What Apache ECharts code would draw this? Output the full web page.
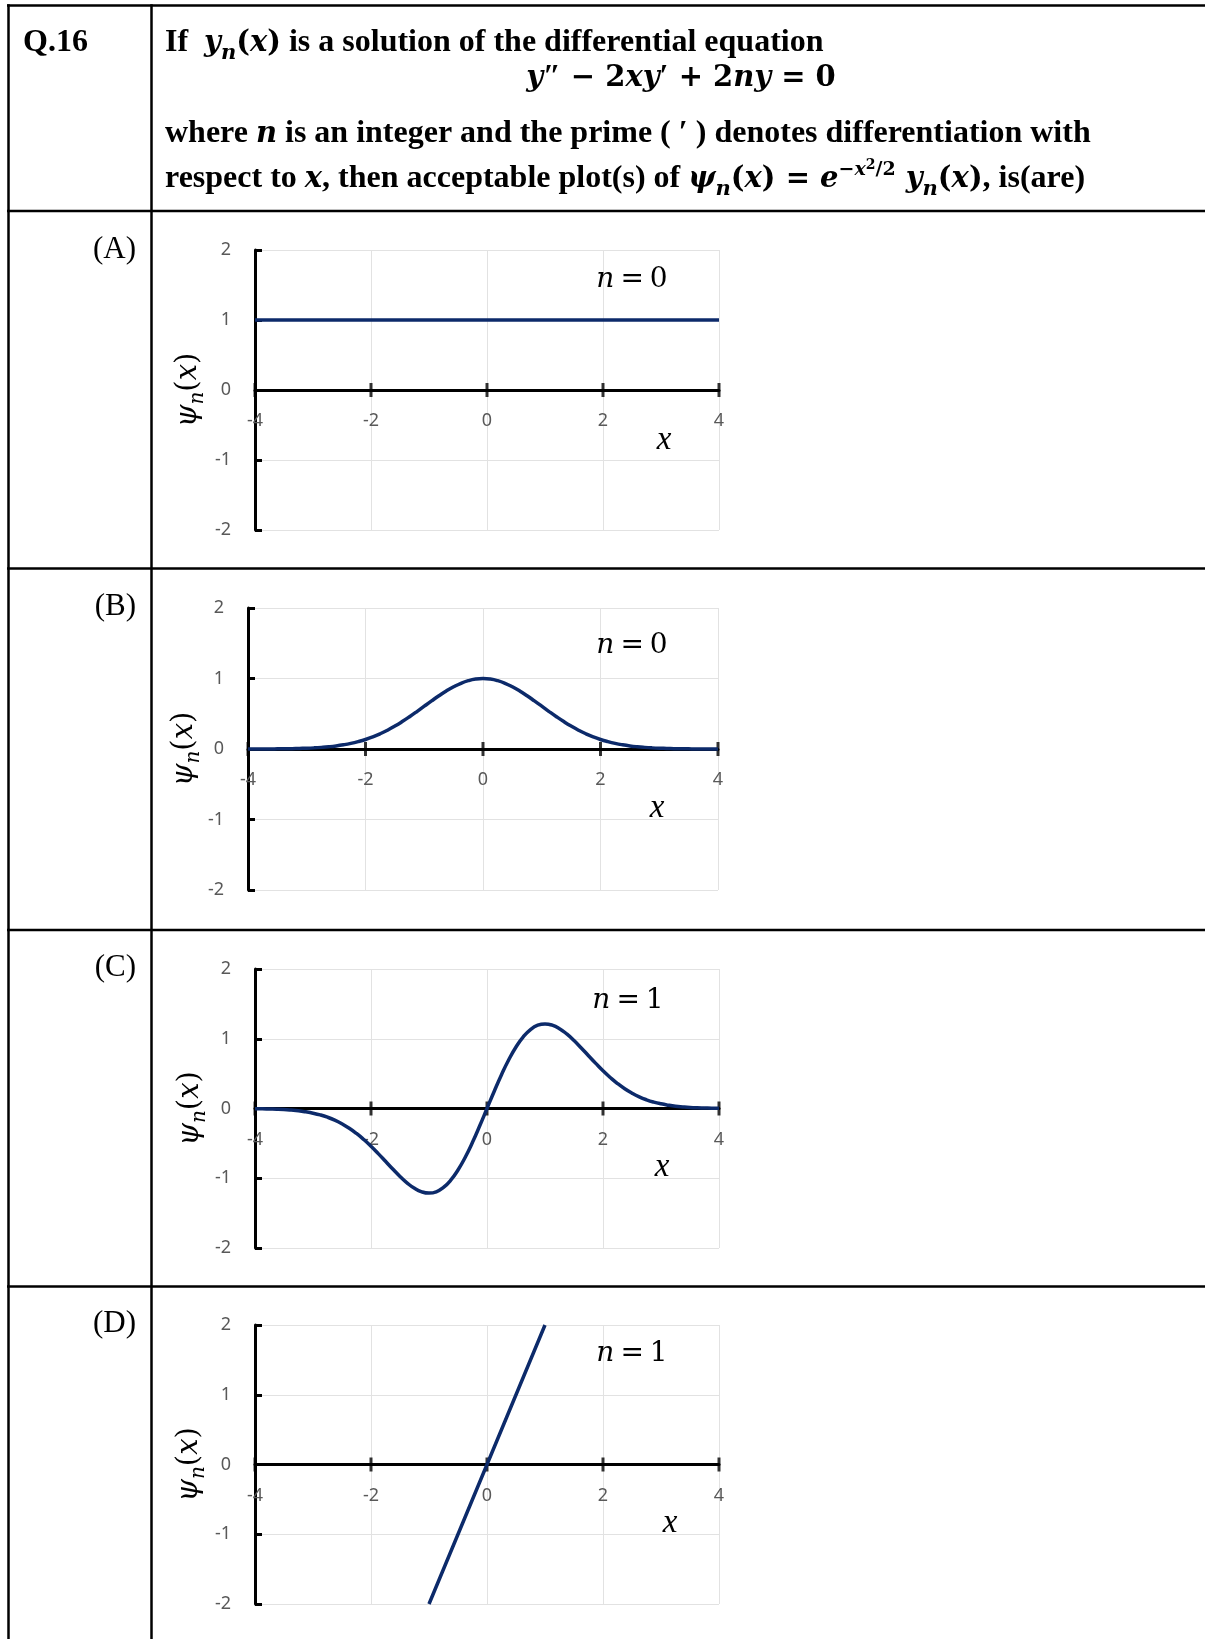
<!DOCTYPE html>
<html>
<head>
<meta charset="utf-8">
<script src="https://cdn.jsdelivr.net/npm/echarts@6/dist/echarts.min.js"></script>
<style>
html,body{margin:0;padding:0;background:#fff;}
#c{width:1205px;height:1639px;}
</style>
</head>
<body>
<div id="c"></div>
<script>
// ---------------- data ----------------
const xTicks = [-4, -2, 0, 2, 4];
const yTicks = [-2, -1, 0, 1, 2];
const panelLabels = ['(A)', '(B)', '(C)', '(D)'];
const nValues = ['0', '0', '1', '1'];

const xA = [-4, 4];
const psiA = [1, 1];

const xBC = [-4, -3.875, -3.75, -3.625, -3.5, -3.375, -3.25, -3.125, -3, -2.875, -2.75, -2.625, -2.5, -2.375, -2.25, -2.125,
             -2, -1.875, -1.75, -1.625, -1.5, -1.375, -1.25, -1.125, -1, -0.875, -0.75, -0.625, -0.5, -0.375, -0.25, -0.125,
             0, 0.125, 0.25, 0.375, 0.5, 0.625, 0.75, 0.875, 1, 1.125, 1.25, 1.375, 1.5, 1.625, 1.75, 1.875,
             2, 2.125, 2.25, 2.375, 2.5, 2.625, 2.75, 2.875, 3, 3.125, 3.25, 3.375, 3.5, 3.625, 3.75, 3.875, 4];
const psiB = [0.000, 0.001, 0.001, 0.001, 0.002, 0.003, 0.005, 0.008, 0.011, 0.016, 0.023, 0.032, 0.044, 0.060, 0.080, 0.105,
              0.135, 0.172, 0.216, 0.267, 0.325, 0.389, 0.458, 0.531, 0.607, 0.682, 0.755, 0.823, 0.882, 0.932, 0.969, 0.992,
              1.000, 0.992, 0.969, 0.932, 0.882, 0.823, 0.755, 0.682, 0.607, 0.531, 0.458, 0.389, 0.325, 0.267, 0.216, 0.172,
              0.135, 0.105, 0.080, 0.060, 0.044, 0.032, 0.023, 0.016, 0.011, 0.008, 0.005, 0.003, 0.002, 0.001, 0.001, 0.001, 0.000];
const psiC = [-0.003, -0.004, -0.007, -0.010, -0.015, -0.023, -0.033, -0.048, -0.067, -0.092, -0.125, -0.167, -0.220, -0.283, -0.358, -0.445,
              -0.541, -0.647, -0.757, -0.868, -0.974, -1.069, -1.145, -1.195, -1.213, -1.194, -1.132, -1.028, -0.882, -0.699, -0.485, -0.248,
              0.000, 0.248, 0.485, 0.699, 0.882, 1.028, 1.132, 1.194, 1.213, 1.195, 1.145, 1.069, 0.974, 0.868, 0.757, 0.647,
              0.541, 0.445, 0.358, 0.283, 0.220, 0.167, 0.125, 0.092, 0.067, 0.048, 0.033, 0.023, 0.015, 0.010, 0.007, 0.004, 0.003];

const xD = [-1, 0, 1];
const psiD = [-2, 0, 2];

// ---------------- styles / layout ----------------
const SERIF = 'Liberation Serif';
const MATH = 'DejaVu Serif';
const SANS = 'Noto Sans';
const LINE = '#0c2a6a';
const GRIDC = '#e2e2e2';
const LABELC = '#595959';

const panels = [
  {x: xA, y: psiA, smooth: false},
  {x: xBC, y: psiB, smooth: true},
  {x: xBC, y: psiC, smooth: true},
  {x: xD, y: psiD, smooth: false}
];
const grids = [
  {left: 255, top: 250, width: 464, height: 280},
  {left: 248, top: 608, width: 470, height: 282},
  {left: 255, top: 969, width: 464, height: 279},
  {left: 255, top: 1325, width: 464, height: 279}
];
const nameGaps = [47, 39, 45, 46];
const rowLines = [5.5, 211, 568.5, 930, 1286.5];
const labelY = [250, 607, 968, 1324];
const nPos = [[632, 280], [632, 646], [628, 1001], [632, 1354]];
const xPos = [[664, 440], [657, 808], [662, 1167], [670, 1523]];

const headRich = {
  b:  {fontFamily: SERIF, fontWeight: 'bold', fontSize: 32, lineHeight: 44},
  pr: {fontFamily: SERIF, fontWeight: 'bold', fontSize: 32, lineHeight: 44},
  m:  {fontFamily: MATH, fontWeight: 'bold', fontSize: 29, lineHeight: 44},
  bi: {fontFamily: MATH, fontWeight: 'bold', fontStyle: 'italic', fontSize: 29, lineHeight: 44},
  sub:{fontFamily: MATH, fontWeight: 'bold', fontStyle: 'italic', fontSize: 21, lineHeight: 22, padding: [22, 0, 0, 0]},
  sup:{fontFamily: MATH, fontWeight: 'bold', fontSize: 19, lineHeight: 22, padding: [2, 0, 20, 0]},
  supi:{fontFamily: MATH, fontWeight: 'bold', fontStyle: 'italic', fontSize: 19, lineHeight: 22, padding: [2, 0, 20, 0]},
  ss: {fontFamily: MATH, fontWeight: 'bold', fontSize: 14, lineHeight: 14, padding: [1, 0, 29, 0]}
};

function headText(x, y, text, align) {
  return {
    type: 'text', x: x, y: y, z: 10,
    style: {text: text, rich: headRich, fill: '#000', align: align || 'left', verticalAlign: 'middle',
            fontFamily: SERIF, fontSize: 32, fontWeight: 'bold'}
  };
}

const graphic = [];
// table lines
rowLines.forEach(function (y) {
  graphic.push({type: 'line', z: 10, shape: {x1: 7, y1: y, x2: 1205, y2: y}, style: {stroke: '#000', lineWidth: 2.5}});
});
graphic.push({type: 'line', z: 10, shape: {x1: 8.5, y1: 4.3, x2: 8.5, y2: 1639}, style: {stroke: '#000', lineWidth: 2.5}});
graphic.push({type: 'line', z: 10, shape: {x1: 151.5, y1: 4.3, x2: 151.5, y2: 1639}, style: {stroke: '#000', lineWidth: 2.5}});

// header
graphic.push({type: 'text', x: 23, y: 43, z: 10,
  style: {text: 'Q.16', fill: '#000', fontFamily: SERIF, fontWeight: 'bold', fontSize: 32, align: 'left', verticalAlign: 'middle'}});
graphic.push(headText(165, 43, '{b|If  }{bi|y}{sub|n}{m|(}{bi|x}{m|)}{b| is a solution of the differential equation}'));
graphic.push(headText(681, 78, '{bi|y}{pr|″}{m| − 2}{bi|xy}{pr|′}{m| + 2}{bi|ny}{m| = 0}', 'center'));
graphic.push(headText(165, 134, '{b|where }{bi|n}{b| is an integer and the prime ( ′ ) denotes differentiation with}'));
graphic.push(headText(165, 179, '{b|respect to }{bi|x}{b|, then acceptable plot(s) of }{bi|ψ}{sub|n}{m|(}{bi|x}{m|) = }{bi|e}{sup|−}{supi|x}{ss|2}{sup|/2}{bi| y}{sub|n}{m|(}{bi|x}{m|)}{b|, is(are)}'));

// row labels, n labels, x labels
panelLabels.forEach(function (lab, i) {
  graphic.push({type: 'text', x: 136, y: labelY[i], z: 10,
    style: {text: lab, fill: '#000', fontFamily: SERIF, fontSize: 31, align: 'right', verticalAlign: 'middle'}});
  graphic.push({type: 'text', x: nPos[i][0], y: nPos[i][1], z: 10,
    style: {text: '{i|n}{e|=}{r|' + nValues[i] + '}', fill: '#000', align: 'center', verticalAlign: 'middle',
      rich: {
        i: {fontFamily: MATH, fontStyle: 'italic', fontSize: 28, lineHeight: 36},
        e: {fontFamily: MATH, fontSize: 28, lineHeight: 36, padding: [0, 6, 0, 6]},
        r: {fontFamily: MATH, fontSize: 28, lineHeight: 36}
      }}});
  graphic.push({type: 'text', x: xPos[i][0], y: xPos[i][1], z: 10,
    style: {text: '{i|x}', fill: '#000', align: 'center', verticalAlign: 'middle',
      rich: {i: {fontFamily: SERIF, fontStyle: 'italic', fontSize: 33, lineHeight: 36}}}});
});

// ---------------- charts ----------------
const option = {
  animation: false,
  backgroundColor: '#fff',
  grid: [], xAxis: [], yAxis: [], series: [],
  graphic: graphic
};

panels.forEach(function (p, i) {
  option.grid.push(Object.assign({outerBoundsMode: 'none', containLabel: false}, grids[i]));
  option.xAxis.push({
    gridIndex: i, type: 'value', position: 'bottom',
    offset: -grids[i].height / 2,
    min: xTicks[0], max: xTicks[xTicks.length - 1], interval: xTicks[1] - xTicks[0],
    axisLine: {show: true, onZero: false, lineStyle: {color: '#000', width: 3}},
    axisTick: {show: false},
    axisLabel: {show: true, margin: 22, color: LABELC, fontSize: 18, fontFamily: SANS, showMinLabel: true, showMaxLabel: true},
    splitLine: {show: true, showMinLine: true, showMaxLine: true, lineStyle: {color: GRIDC, width: 1}}
  });
  option.yAxis.push({
    gridIndex: i, type: 'value', position: 'left',
    min: yTicks[0], max: yTicks[yTicks.length - 1], interval: yTicks[1] - yTicks[0],
    axisLine: {show: true, onZero: false, lineStyle: {color: '#000', width: 3}},
    axisTick: {show: true, inside: true, length: 7, lineStyle: {color: '#000', width: 3}},
    axisLabel: {show: true, margin: 24, color: LABELC, fontSize: 18, fontFamily: SANS, showMinLabel: true, showMaxLabel: true},
    splitLine: {show: true, showMinLine: true, showMaxLine: true, lineStyle: {color: GRIDC, width: 1}},
    name: '{i|ψ}{s|n}{p|(}{i|x}{p|)}',
    nameLocation: 'middle', nameGap: nameGaps[i], nameRotate: 90,
    nameTextStyle: {
      color: '#000',
      rich: {
        i: {fontFamily: MATH, fontStyle: 'italic', fontSize: 29, lineHeight: 40, color: '#000'},
        p: {fontFamily: MATH, fontSize: 29, lineHeight: 40, color: '#000'},
        s: {fontFamily: MATH, fontStyle: 'italic', fontSize: 20, lineHeight: 20, padding: [20, 0, 0, 0], color: '#000'}
      }
    }
  });
  // crossing tick marks on the x axis
  option.series.push({
    type: 'scatter', xAxisIndex: i, yAxisIndex: i, silent: true, z: 1,
    data: xTicks.map(function (x) { return [x, 0]; }),
    symbol: 'rect', symbolSize: [3, 14], itemStyle: {color: '#000'}
  });
  option.series.push({
    type: 'line', xAxisIndex: i, yAxisIndex: i, z: 3,
    data: p.x.map(function (x, k) { return [x, p.y[k]]; }),
    smooth: p.smooth, showSymbol: false, symbol: 'none',
    lineStyle: {color: LINE, width: 3.5}
  });
});

const chart = echarts.init(document.getElementById('c'), null, {renderer: 'canvas', width: 1205, height: 1639});
chart.setOption(option);
</script>
</body>
</html>
